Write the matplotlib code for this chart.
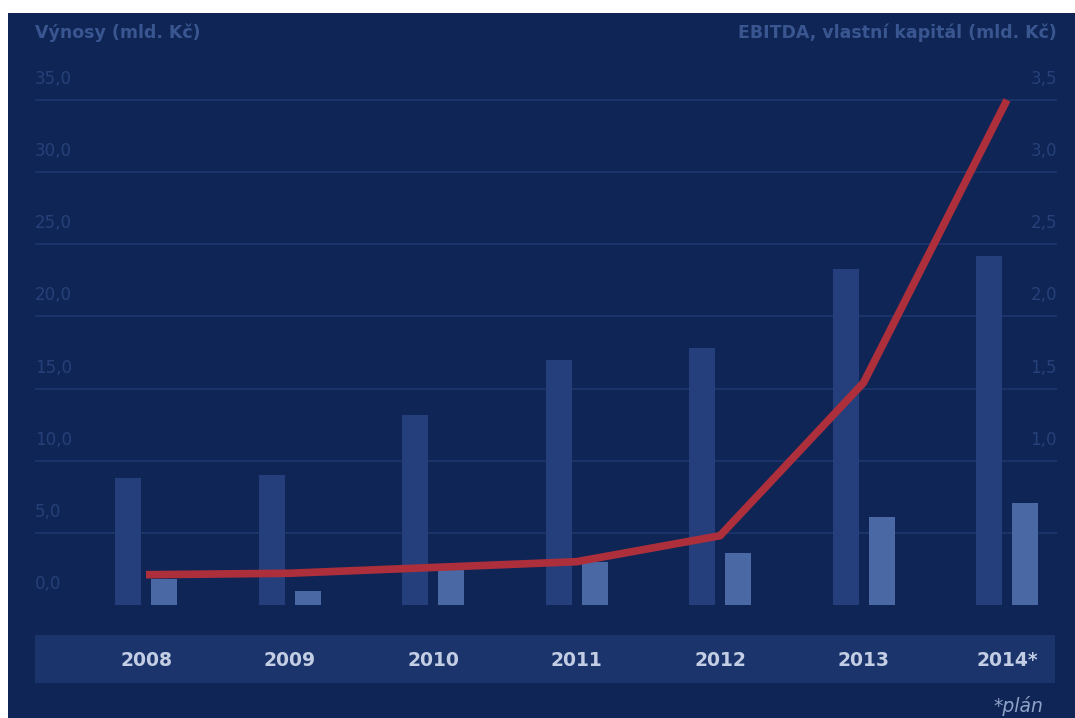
import matplotlib
matplotlib.use("Agg")
import matplotlib.pyplot as plt
from matplotlib.patches import Rectangle
from matplotlib.transforms import blended_transform_factory

# ---- data ----
years = ["2008", "2009", "2010", "2011", "2012", "2013", "2014*"]
vynosy = [8.8, 9.0, 13.2, 17.0, 17.8, 23.3, 24.2]          # left axis, mld. Kč
ebitda = [0.18, 0.10, 0.24, 0.30, 0.36, 0.61, 0.71]        # right axis, mld. Kč
kapital = [0.21, 0.22, 0.26, 0.30, 0.48, 1.54, 3.50]       # right axis, mld. Kč
left_ticks = [0, 5, 10, 15, 20, 25, 30, 35]
right_ticks = [1.0, 1.5, 2.0, 2.5, 3.0, 3.5]

# ---- style ----
W, H = 1075, 718
BG = "#0f2555"
BAND = "#1b356c"
BAR1 = "#243f7b"
BAR2 = "#4a68a4"
LINE = "#ad2f3c"
GRID = "#1d376c"
TICK = "#26407a"
HEAD = "#3a5690"
YEAR = "#c3cee4"
FONT = ["DejaVu Sans"]

plt.rcParams["font.family"] = FONT

fig = plt.figure(figsize=(W / 100, H / 100), dpi=100, facecolor="white")
fig.add_artist(Rectangle((8 / W, 0), 1 - 8 / W, (H - 13) / H, transform=fig.transFigure,
                         facecolor=BG, edgecolor="none", zorder=-10))
# x-axis band
fig.add_artist(Rectangle((35 / W, (H - 683) / H), (1055 - 35) / W, 48 / H,
                         transform=fig.transFigure, facecolor=BAND, edgecolor="none", zorder=-9))

ax_left, ax_right = 35, 1057
ax_bottom, ax_top = 605, 95
ax = fig.add_axes([ax_left / W, (H - ax_bottom) / H, (ax_right - ax_left) / W, (ax_bottom - ax_top) / H])
ax.patch.set_visible(False)
step = 143.5
x0 = (ax_left - 146) / step
x1 = (ax_right - 146) / step
ax.set_xlim(x0, x1)
ytop = (ax_bottom - ax_top) / 14.43
ax.set_ylim(0, ytop)
ax2 = ax.twinx()
ax2.set_ylim(0, ytop / 10)
ax2.patch.set_visible(False)

for a in (ax, ax2):
    for s in a.spines.values():
        s.set_visible(False)
    a.set_xticks([])
    a.set_yticks([])

# gridlines
for v in left_ticks[1:]:
    ax.axhline(v, color=GRID, lw=1.2, zorder=0)

xs = list(range(len(years)))
bw = 26 / step
off = 18 / step
ax.bar([x - off for x in xs], vynosy, width=bw, color=BAR1, zorder=2)
ax2.bar([x + off for x in xs], ebitda, width=bw, color=BAR2, zorder=2)
ax2.plot(xs, kapital, color=LINE, lw=5.5, solid_joinstyle="round", solid_capstyle="butt", zorder=3)

# tick labels
trL = blended_transform_factory(ax.transAxes, ax.transData)
for v in left_ticks:
    ax.text(0.0, v + 1.45, f"{v:.1f}".replace(".", ","), transform=trL, ha="left", va="center",
            color=TICK, fontsize=12)
trR = blended_transform_factory(ax2.transAxes, ax2.transData)
for v in right_ticks:
    ax2.text(1.0, v + 0.145, f"{v:.1f}".replace(".", ","), transform=trR, ha="right", va="center",
             color=TICK, fontsize=12)

# year labels
trX = blended_transform_factory(ax.transData, ax.transAxes)
ycat = (ax_bottom - 660) / (ax_bottom - ax_top)
for x, lab in zip(xs, years):
    ax.text(x, ycat, lab, transform=trX, ha="center", va="center", color=YEAR,
            fontsize=13.5, fontweight="bold")

# headers
fig.text(35 / W, (H - 33) / H, "Výnosy (mld. Kč)", ha="left", va="center", color=HEAD,
         fontsize=12.5, fontweight="bold")
fig.text(1057 / W, (H - 33) / H, "EBITDA, vlastní kapitál (mld. Kč)", ha="right", va="center",
         color=HEAD, fontsize=12.5, fontweight="bold")
fig.text(1043 / W, (H - 706) / H, "*plán", ha="right", va="center", color="#8fa2c8",
         fontsize=13.5, style="italic")

fig.savefig("out.png", dpi=100, facecolor=fig.get_facecolor())
